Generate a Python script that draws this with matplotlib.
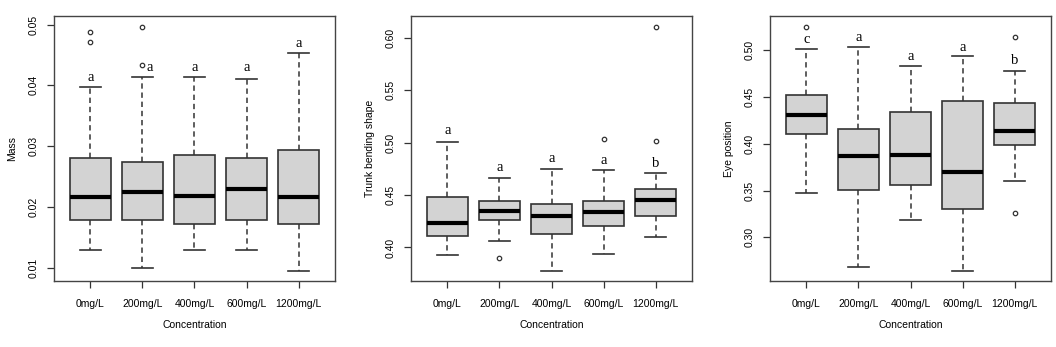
import matplotlib.pyplot as plt

conc = ["0mg/L", "200mg/L", "400mg/L", "600mg/L", "1200mg/L"]

# Mass
mass_q1 = [0.0179, 0.0179, 0.0171, 0.0179, 0.0171]
mass_med = [0.0217, 0.0224, 0.0218, 0.0230, 0.0217]
mass_q3 = [0.0281, 0.0273, 0.0285, 0.0281, 0.0293]
mass_lo = [0.0129, 0.0100, 0.0129, 0.0129, 0.0095]
mass_hi = [0.0398, 0.0413, 0.0413, 0.0410, 0.0453]
mass_out = [[0.0488, 0.0472], [0.0496, 0.0434], [], [], []]
mass_let = ["a", "a", "a", "a", "a"]
mass_let_y = [0.0412, 0.0429, 0.0429, 0.0429, 0.0469]
mass_let_dx = [0, 0.13, 0, 0, 0]

# Trunk bending shape
trunk_q1 = [0.4114, 0.4264, 0.4124, 0.4207, 0.4296]
trunk_med = [0.4235, 0.4353, 0.4302, 0.4334, 0.4455]
trunk_q3 = [0.4483, 0.4448, 0.4417, 0.4442, 0.4563]
trunk_lo = [0.3930, 0.4064, 0.3774, 0.3933, 0.4099]
trunk_hi = [0.5008, 0.4665, 0.4754, 0.4738, 0.4709]
trunk_out = [[], [0.3895], [], [0.5040], [0.5017, 0.6105]]
trunk_let = ["a", "a", "a", "a", "b"]
trunk_let_y = [0.5119, 0.4763, 0.4846, 0.4827, 0.4801]

# Eye position
eye_q1 = [0.4103, 0.3509, 0.3562, 0.3306, 0.3993]
eye_med = [0.4313, 0.3875, 0.3886, 0.3698, 0.4135]
eye_q3 = [0.4523, 0.4160, 0.4342, 0.4456, 0.4441]
eye_lo = [0.3477, 0.2687, 0.3189, 0.2641, 0.3598]
eye_hi = [0.5014, 0.5039, 0.4833, 0.4936, 0.4783]
eye_out = [[0.5249], [], [], [], [0.5142, 0.3256]]
eye_let = ["c", "a", "a", "a", "b"]
eye_let_y = [0.5114, 0.5142, 0.4936, 0.5025, 0.4890]

panels = [
    ("Mass", mass_q1, mass_med, mass_q3, mass_lo, mass_hi, mass_out, mass_let, mass_let_y, mass_let_dx,
     (0.0078, 0.0514), [0.01, 0.02, 0.03, 0.04, 0.05], "%.2f", 54),
    ("Trunk bending shape", trunk_q1, trunk_med, trunk_q3, trunk_lo, trunk_hi, trunk_out, trunk_let, trunk_let_y,
     [0] * 5, (0.368, 0.621), [0.40, 0.45, 0.50, 0.55, 0.60], "%.2f", 411),
    ("Eye position", eye_q1, eye_med, eye_q3, eye_lo, eye_hi, eye_out, eye_let, eye_let_y,
     [0] * 5, (0.2534, 0.5367), [0.30, 0.35, 0.40, 0.45, 0.50], "%.2f", 770),
]

W, H = 1056, 347
fig = plt.figure(figsize=(W / 100, H / 100), dpi=100)
plt.rcParams['font.family'] = ['Liberation Sans', 'DejaVu Sans']
edge = '#333333'

for (ylab, q1, med, q3, lo, hi, out, let, let_y, let_dx, ylim, yt, fmt, left) in panels:
    ax = fig.add_axes([left / W, 66 / H, 281 / W, 265 / H])
    stats = []
    for i in range(5):
        stats.append(dict(q1=q1[i], med=med[i], q3=q3[i], whislo=lo[i], whishi=hi[i], fliers=out[i]))
    ax.bxp(stats, positions=range(1, 6), widths=0.8, patch_artist=True, showcaps=True,
           boxprops=dict(facecolor='#d3d3d3', edgecolor=edge, linewidth=1.2),
           medianprops=dict(color='black', linewidth=3),
           whiskerprops=dict(color=edge, linewidth=1.1, linestyle=(0, (3.5, 2.5))),
           capprops=dict(color=edge, linewidth=1.2),
           capwidths=0.4,
           flierprops=dict(marker='o', markersize=3.2, markerfacecolor='none',
                           markeredgecolor=edge, markeredgewidth=0.9))
    for i in range(5):
        ax.text(i + 1 + let_dx[i], let_y[i], let[i], ha='center', va='center',
                fontsize=10.5, family=['Liberation Serif', 'DejaVu Serif'])
    ax.set_xlim(0.3, 5.7)
    ax.set_ylim(*ylim)
    ax.set_xticks(range(1, 6))
    ax.set_xticklabels(conc, fontsize=7.5)
    ax.set_yticks(yt)
    ax.set_yticklabels([fmt % v for v in yt], fontsize=7.5, rotation=90, va='center')
    ax.tick_params(direction='out', length=5, width=0.9, color=edge, pad=6)
    ax.tick_params(axis='x', pad=8)
    for s in ax.spines.values():
        s.set_color('#444444')
        s.set_linewidth(1.0)
    ax.set_xlabel("Concentration", fontsize=7.5, labelpad=8)
    ax.set_ylabel(ylab, fontsize=7.5, labelpad=8)

fig.savefig("out.png", dpi=100)
